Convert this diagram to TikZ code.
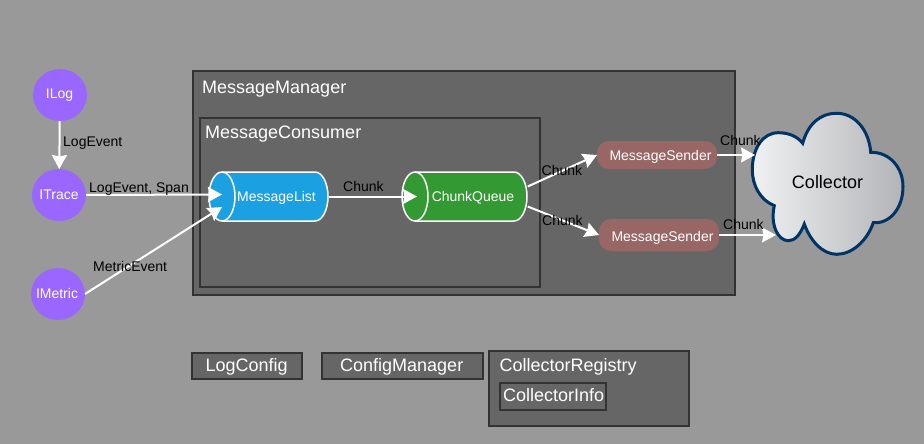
\documentclass[tikz,border=0pt]{standalone}
\usepackage{fontspec}
\setmainfont{Liberation Sans}
\usetikzlibrary{arrows.meta,shapes.geometric}
\definecolor{bgc}{HTML}{999999}
\definecolor{boxc}{HTML}{666666}
\definecolor{edgec}{HTML}{333333}
\definecolor{purplec}{HTML}{9966FF}
\definecolor{bluec}{HTML}{1BA1E2}
\definecolor{greenc}{HTML}{339933}
\definecolor{senderc}{HTML}{996666}
\definecolor{cloudc}{HTML}{003366}
\definecolor{cloudl}{HTML}{F0F1F2}
\definecolor{cloudr}{HTML}{B2B4B7}
\newcommand{\fs}[1]{\fontsize{#1}{#1}\selectfont}
% text at an offset from the node centre: dx, baseline below centre, text
\newcommand{\placed}[3]{\makebox[0pt]{\hspace*{\dimexpr 2\dimexpr #1pt\relax\relax}\raisebox{-#2pt}[0pt][0pt]{#3}}}
\tikzset{
  frame/.style={draw=edgec,fill=boxc,line width=2pt,inner sep=0pt,outer sep=0pt},
  title/.style={anchor=base west,inner sep=0pt,text=white,font=\fs{18}},
  lab/.style={anchor=base west,inner sep=0pt,text=black,font=\fs{14}},
  iface/.style={ellipse,fill=purplec,minimum width=54pt,minimum height=52pt,inner sep=0pt,outer sep=0pt,text=white,font=\fs{14}},
  queue/.style={rectangle,minimum height=50.5pt,inner sep=0pt,outer sep=0pt,text=white,font=\fs{14},
    path picture={
      \draw[white,line width=1.5pt,fill=#1]
        ([xshift=13.75pt,yshift=-.75pt]path picture bounding box.north west)
        -- ([xshift=-13.75pt,yshift=-.75pt]path picture bounding box.north east)
        arc[start angle=90,end angle=-90,x radius=13pt,y radius=24.5pt]
        -- ([xshift=13.75pt,yshift=.75pt]path picture bounding box.south west)
        arc[start angle=270,end angle=90,x radius=13pt,y radius=24.5pt] -- cycle;
      \draw[white,line width=1.5pt]
        ([xshift=13.75pt,yshift=-.75pt]path picture bounding box.north west)
        arc[start angle=90,end angle=-90,x radius=13pt,y radius=24.5pt];
    }},
  sender/.style={rounded corners=12pt,fill=senderc,inner sep=0pt,outer sep=0pt,text=white,font=\fs{14}},
  flow/.style={draw=white,line width=2pt,-{Stealth[length=14pt,width=15pt,inset=1.5pt]}},
}
\begin{document}
\begin{tikzpicture}[x=1pt,y=-1pt]
\useasboundingbox (0,0) rectangle (924,444);
\fill[bgc] (0,0) rectangle (924,444);
% containers
\node[frame,minimum width=542pt,minimum height=224pt] (mm) at (464,183) {};
\node[title] (mmt) at (202,94) {MessageManager};
\node[frame,minimum width=340pt,minimum height=169pt] (mc) at (370,202.5) {};
\node[title] (mct) at (205,139) {MessageConsumer};
% bottom boxes
\node[frame,minimum width=109.7pt,minimum height=26pt] (lc) at (246.9,365.7) {};
\node[title] (lct) at (205.5,371) {LogConfig};
\node[frame,minimum width=161pt,minimum height=26pt] (cm) at (402.5,365.7) {};
\node[title] (cmt) at (340,371) {ConfigManager};
\node[frame,minimum width=199.7pt,minimum height=74.7pt] (cr) at (589.2,388.4) {};
\node[title] (crt) at (499.5,371) {CollectorRegistry};
\node[frame,minimum width=106pt,minimum height=26.7pt] (ci) at (553,396.4) {};
\node[title] (cit) at (503,401) {CollectorInfo};
% interfaces
\node[iface] (ilog) at (60,95) {\placed{-.5}{4}{ILog}};
\node[iface] (itrace) at (59,195) {\placed{0}{4}{ITrace}};
\node[iface] (imetric) at (58,294) {\placed{-1}{4}{IMetric}};
% queues
\node[queue=bluec,minimum width=120.5pt] (ml) at (268.5,196.5) {\placed{8}{4.5}{MessageList}};
\node[queue=greenc,minimum width=126.5pt] (cq) at (464.5,196.5) {\placed{8.5}{4.5}{ChunkQueue}};
% senders
\node[sender,minimum width=120pt,minimum height=28pt] (s1) at (657,155) {\placed{3.5}{5}{MessageSender}};
\node[sender,minimum width=120pt,minimum height=32pt] (s2) at (659,235) {\placed{3.5}{6}{MessageSender}};
% cloud
\path[draw=cloudc,line width=3pt,left color=cloudl,right color=cloudr]
  (802.7,143.3) .. controls (808,124) and (820,113.3) .. (836.7,113.3)
  .. controls (855,113.3) and (869,130) .. (870.7,152.3)
  .. controls (890,152) and (903,168) .. (903,186.7)
  .. controls (903,208) and (890,224) .. (873.3,222.7)
  .. controls (867,241) and (852,254.3) .. (836.7,254.3)
  .. controls (822,254.3) and (810,240) .. (804.3,224)
  .. controls (800,235) and (795,240.7) .. (788.3,240.7)
  .. controls (778,240.7) and (770,225) .. (774.3,205.7)
  .. controls (760,200) and (752.3,185) .. (752.3,170)
  .. controls (752.3,148) and (763,132.7) .. (778.3,132.7)
  .. controls (788,132.7) and (797,136) .. cycle;
\node[anchor=base,inner sep=0pt,text=black,font=\fs{18}] (coll) at (827.5,188) {Collector};
% connector ends
\coordinate (mlA) at (222,194.5);
\coordinate (mlB) at (222,207);
\coordinate (cqA) at (417,196.5);
\coordinate (cloudA) at (755,155);
\coordinate (cloudB) at (776,235);
% connectors
\draw[flow] (ilog) -- (itrace);
\draw[flow] (itrace.east) -- (mlA);
\draw[flow] (imetric.east) -- (mlB);
\draw[flow] (ml.east) -- (cqA);
\draw[flow] ([yshift=10pt]cq.east) -- (s1.west);
\draw[flow] ([yshift=-10pt]cq.east) -- (s2.west);
\draw[flow] (s1.east) -- (cloudA);
\draw[flow] (s2.east) -- (cloudB);
% labels
\node[lab] (l1) at (63,146) {LogEvent};
\node[lab] (l2) at (89,192) {LogEvent, Span};
\node[lab] (l3) at (93,271) {MetricEvent};
\node[lab] (l4) at (343,191) {Chunk};
\node[lab] (l5) at (541.5,175) {Chunk};
\node[lab] (l6) at (542,225) {Chunk};
\node[lab] (l7) at (720,145) {Chunk};
\node[lab] (l8) at (723,229) {Chunk};
\end{tikzpicture}
\end{document}
